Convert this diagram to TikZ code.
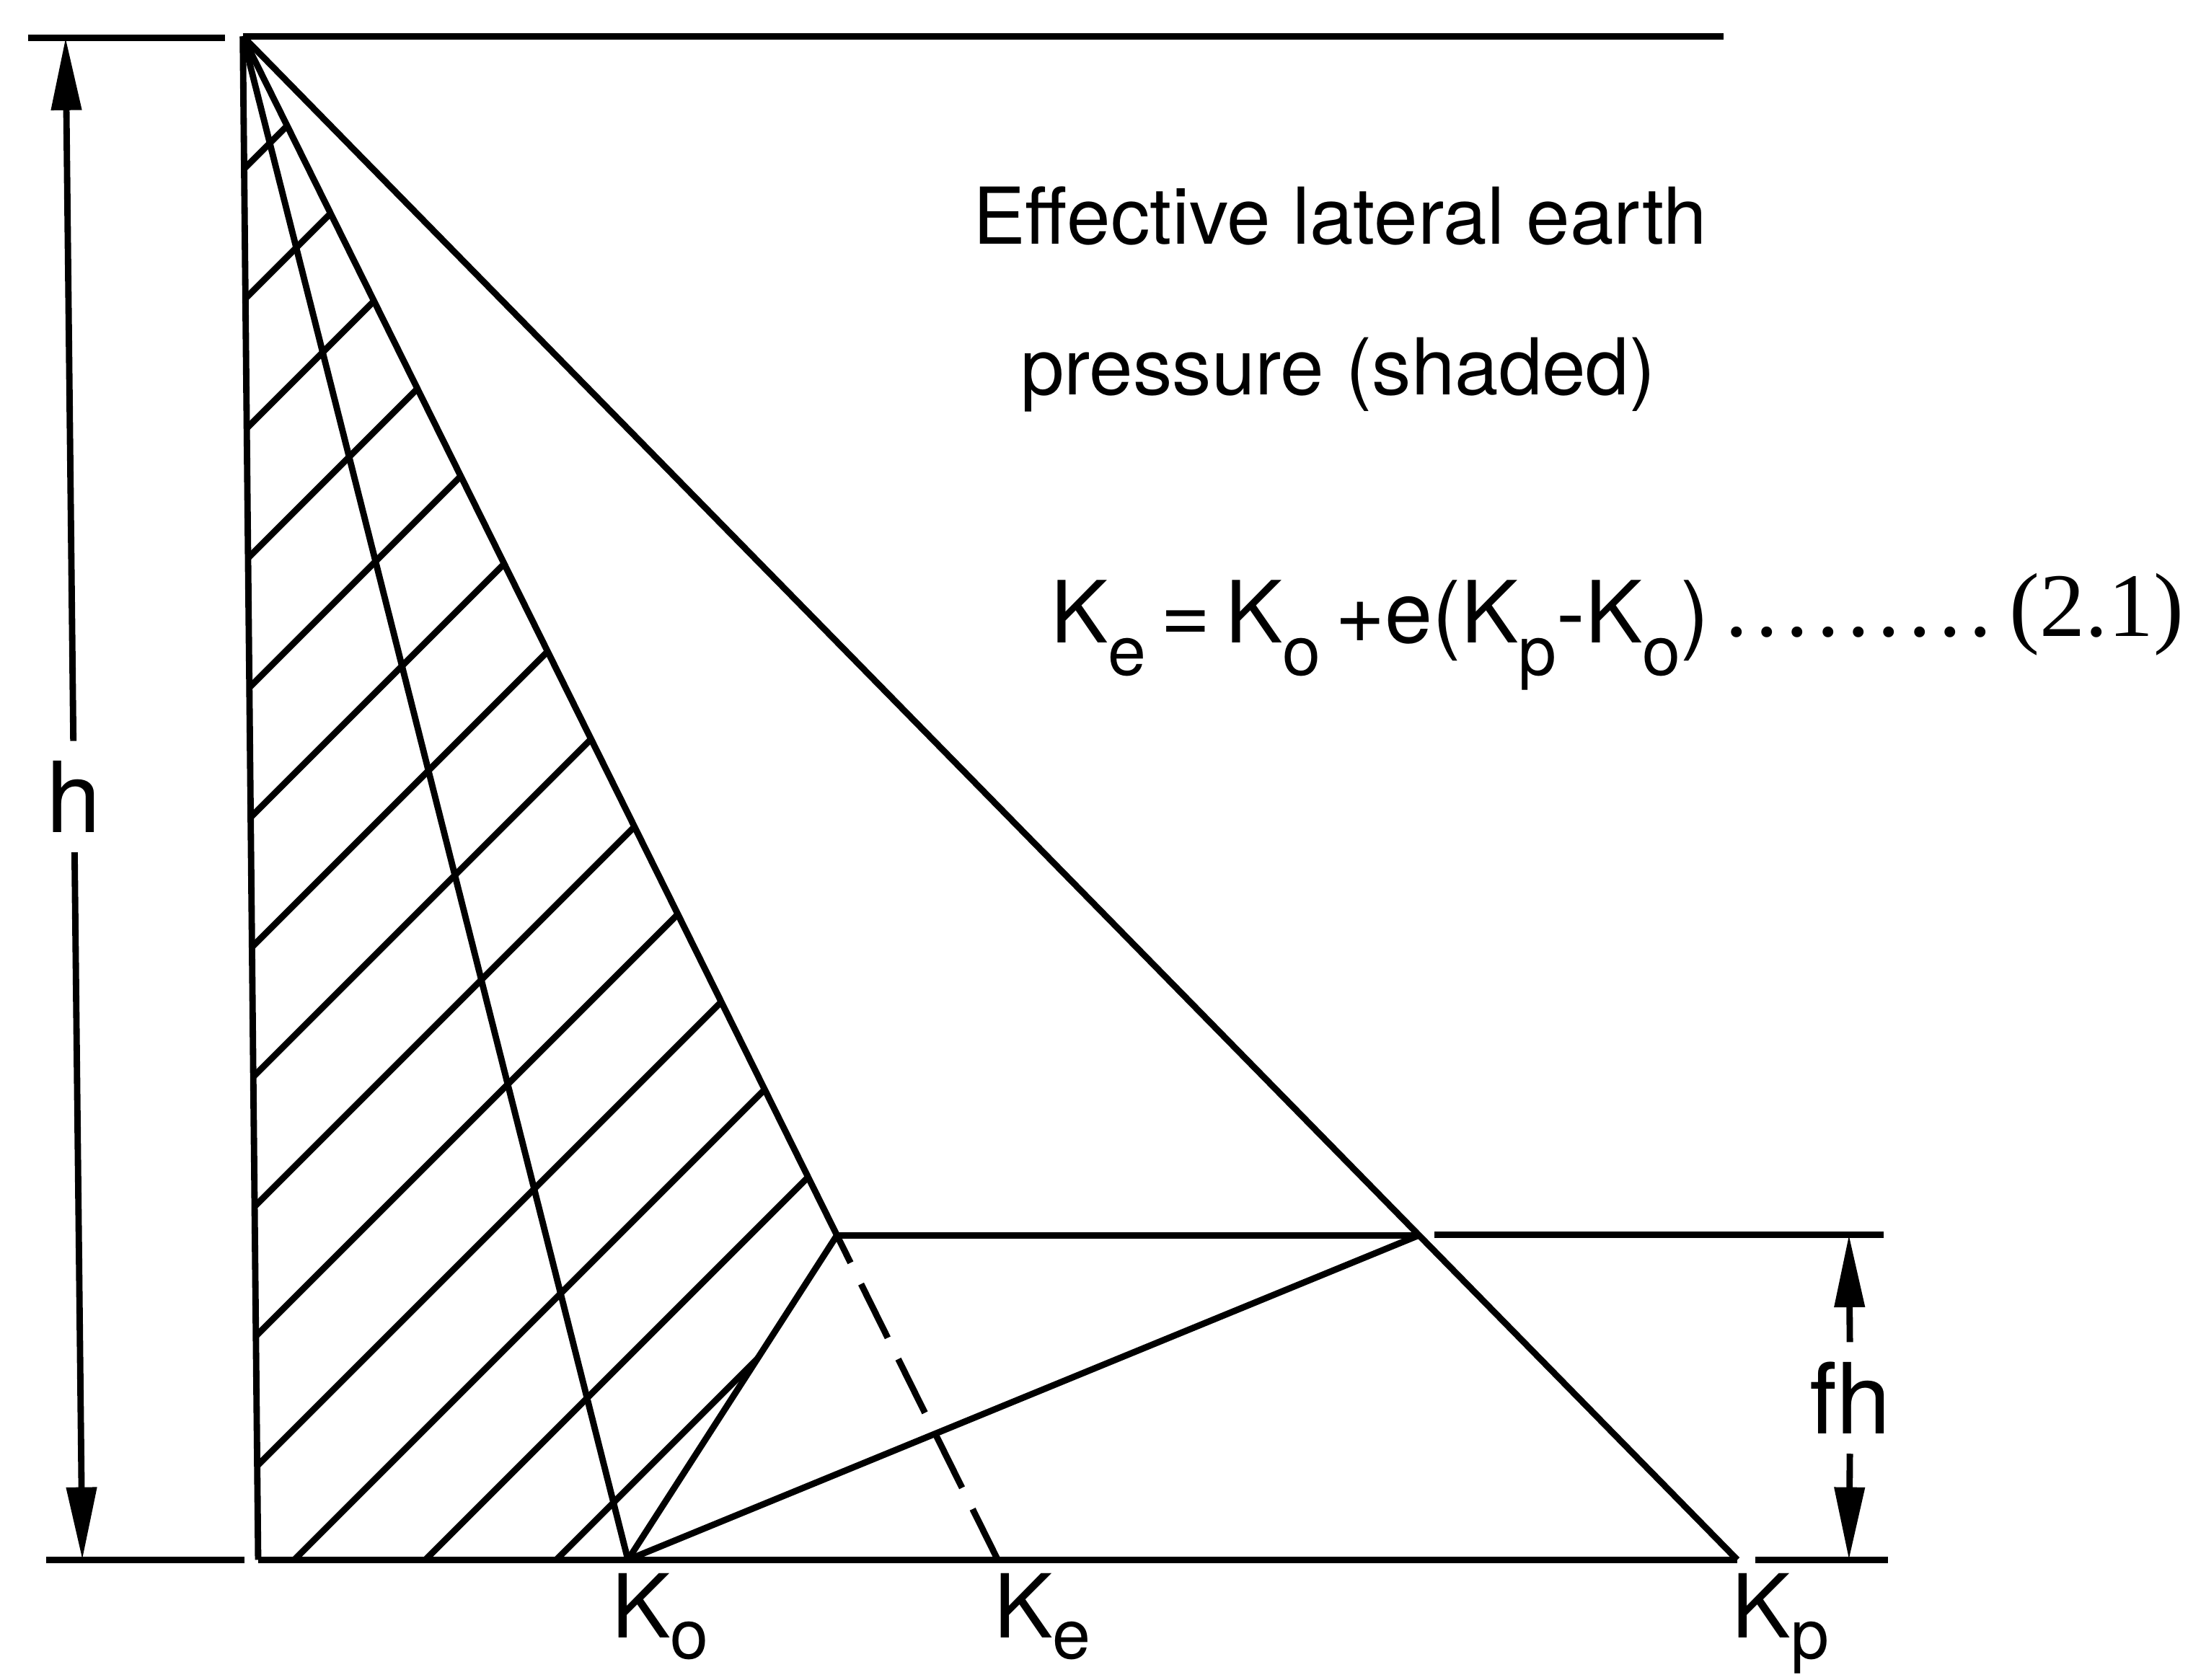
\documentclass[tikz,border=0pt]{standalone}
\usepackage{fontspec}
\setmainfont{TeX Gyre Heros}
\newfontfamily\numfont{Liberation Serif}
\usetikzlibrary{arrows.meta, calc}

\newcommand{\Ksub}[2][2.3mm]{K\raisebox{-#1}{\fontsize{14}{14}\selectfont #2}}
\newcommand{\eqdots}{\foreach \i in {1,...,9}{.\kern1.6pt}}

\begin{document}
\begin{tikzpicture}[line width=1.3pt,
        dimarrow/.style={-{Triangle[length=5.2mm,width=2.1mm]}},
        dashln/.style={dash pattern=on 4.3mm off 1.7mm, dash phase=2.1mm},
        txt/.style={inner sep=0, anchor=base west, font=\fontsize{16}{19}\selectfont},
        klab/.style={inner sep=0, anchor=base west, font=\fontsize{18}{20}\selectfont},
        dimlab/.style={inner sep=1.2mm, font=\fontsize{20}{22}\selectfont}]
        \useasboundingbox (0,0) rectangle (15.68,12.04);

        \coordinate (apex) at (1.74,11.78);
        \coordinate (wallbot) at (1.85,0.86);
        \coordinate (Ko) at (4.50,0.86);
        \coordinate (Ke) at (7.15,0.86);
        \coordinate (Kp) at (12.45,0.86);
        \coordinate (topend) at (12.35,11.78);
        \coordinate (F) at ($(apex)!0.787!(Ke)$);
        \coordinate (G) at ($(apex)!0.787!(Kp)$);

        \begin{scope}
            \clip (apex) -- (wallbot) -- (Ko) -- (F) -- cycle;
            \foreach \k in {0,...,13}{
                \pgfmathsetmacro{\d}{-9.08+0.939*\k}
                \draw (\d,0) -- ++(12,12);
            }
        \end{scope}

        \draw (apex) -- (topend);
        \draw (apex) -- (wallbot);
        \draw (wallbot) -- (Kp);
        \draw (apex) -- (Ko);
        \draw (apex) -- (F);
        \draw[dashln] (F) -- (Ke);
        \draw (apex) -- (Kp);
        \draw (F) -- (G);
        \draw (Ko) -- (F);
        \draw (Ko) -- (G);
        \draw (10.28,3.19) -- (13.50,3.19);

        \draw (0.20,11.77) -- (1.61,11.77);
        \draw (0.33,0.86) -- (1.75,0.86);
        \draw (12.58,0.86) -- (13.53,0.86);

        \coordinate (htop) at (0.47,11.77);
        \coordinate (hbot) at (0.59,0.86);
        \node[dimlab] (hlab) at (0.53,6.33) {h};
        \draw[dimarrow] (hlab) -- (htop);
        \draw[dimarrow] (hlab) -- (hbot);

        \coordinate (fhtop) at (13.25,3.19);
        \coordinate (fhbot) at (13.25,0.86);
        \node[dimlab] (fhlab) at (13.26,2.02) {fh};
        \draw[dimarrow] (fhlab) -- (fhtop);
        \draw[dimarrow] (fhlab) -- (fhbot);

        \node[klab] (labKo) at (4.36,0.30) {\Ksub[1.5mm]{o}};
        \node[klab] (labKe) at (7.10,0.30) {\Ksub[1.5mm]{e}};
        \node[klab] (labKp) at (12.39,0.30) {\Ksub[1.5mm]{p}};

        \node[txt] (title1) at (6.95,10.29) {Effective lateral earth};
        \node[txt] (title2) at (7.29,9.21) {pressure (shaded)};
        \node[txt, font=\fontsize{17.5}{20}\selectfont] (eqn) at (7.51,7.43)
            {\Ksub{e}\,=\,\Ksub{o}\,+e(\Ksub{p}-\Ksub{o})};
        \node[txt, font=\numfont\fontsize{18.5}{20}\selectfont] (eqdots) at (12.34,7.48) {\eqdots};
        \node[txt, font=\numfont\fontsize{18.5}{20}\selectfont] (eqnum) at (14.38,7.48) {(2.1)};
\end{tikzpicture}
\end{document}
